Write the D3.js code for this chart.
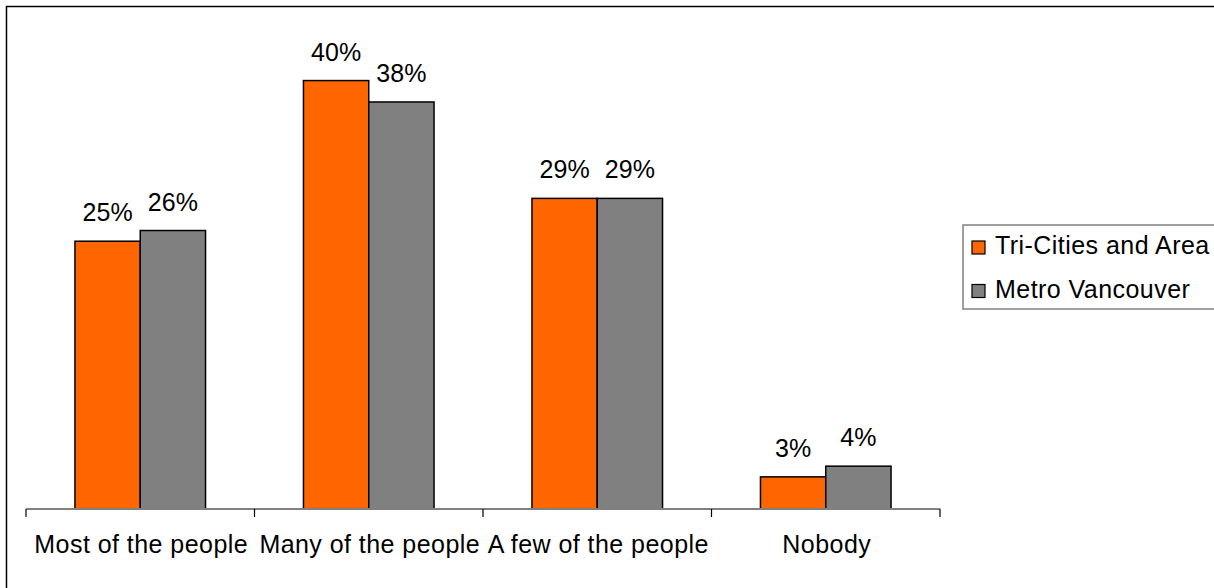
<!DOCTYPE html>
<html><head><meta charset="utf-8">
<script src="https://cdn.jsdelivr.net/npm/d3@7"></script>
<style>html,body{margin:0;padding:0;background:#fff;overflow:hidden}</style>
</head><body>
<svg id="c" width="1214" height="588"></svg>
<script>
const categories = ["Most of the people", "Many of the people", "A few of the people", "Nobody"];
const seriesNames = ["Tri-Cities and Area", "Metro Vancouver"];
const triCities = [25, 40, 29, 3];
const metroVancouver = [26, 38, 29, 4];
const colors = ["#FF6600", "#808080"];

const svg = d3.select("#c");
const font = "'Liberation Sans', Arial, sans-serif";
const fs = 25;

// outer border (cropped on right/bottom)
svg.append("rect").attr("x", 6.5).attr("y", 6.5).attr("width", 1300).attr("height", 700)
  .attr("fill", "#fff").attr("stroke", "#000").attr("stroke-width", 1.5);

const x0 = d3.scaleBand().domain(categories).range([26, 940]).padding(0);
const x1 = d3.scaleBand().domain(seriesNames).range([0, x0.bandwidth()]).paddingInner(0).paddingOuter(0.75);
const y = d3.scaleLinear().domain([0, 45]).range([509, 27]);

const data = categories.map((c, i) => ({cat: c, vals: [triCities[i], metroVancouver[i]]}));

const g = svg.append("g");
const groups = g.selectAll("g.cat").data(data).join("g")
  .attr("transform", d => `translate(${x0(d.cat)},0)`);

groups.selectAll("rect").data(d => d.vals.map((v, j) => ({v, s: seriesNames[j], j})))
  .join("rect")
  .attr("x", d => x1(d.s))
  .attr("y", d => y(d.v))
  .attr("width", x1.bandwidth())
  .attr("height", d => y(0) - y(d.v))
  .attr("fill", d => colors[d.j])
  .attr("stroke", "#000").attr("stroke-width", 1.5);

groups.selectAll("text.val").data(d => d.vals.map((v, j) => ({v, s: seriesNames[j], j})))
  .join("text").attr("class", "val")
  .attr("x", d => x1(d.s) + x1.bandwidth() / 2)
  .attr("y", d => y(d.v) - 20)
  .attr("text-anchor", "middle")
  .attr("font-family", font).attr("font-size", fs).attr("fill", "#000")
  .text(d => d.v + "%");

// x axis
const axisG = svg.append("g").attr("transform", `translate(0,${y(0)})`);
axisG.append("line").attr("x1", 26).attr("x2", 940).attr("y1", 0).attr("y2", 0)
  .attr("stroke", "#808080").attr("stroke-width", 2);
const tickPos = categories.map(c => x0(c)).concat([x0(categories[categories.length - 1]) + x0.bandwidth()]);
axisG.selectAll("line.tick").data(tickPos).join("line").attr("class", "tick")
  .attr("x1", d => d).attr("x2", d => d).attr("y1", 0).attr("y2", 8)
  .attr("stroke", "#000").attr("stroke-width", 1.2);
axisG.selectAll("text").data(categories).join("text")
  .attr("x", d => x0(d) + x0.bandwidth() / 2 + 1)
  .attr("y", 44)
  .attr("text-anchor", "middle")
  .attr("letter-spacing", "0.45px")
  .attr("font-family", font).attr("font-size", fs).attr("fill", "#000")
  .text(d => d);

// legend
const lg = svg.append("g");
lg.append("rect").attr("x", 963).attr("y", 225).attr("width", 300).attr("height", 84)
  .attr("fill", "#fff").attr("stroke", "#808080").attr("stroke-width", 1.5);
seriesNames.forEach((s, i) => {
  const yy = 241 + i * 43.5;
  lg.append("rect").attr("x", 972).attr("y", yy).attr("width", 13).attr("height", 13)
    .attr("fill", colors[i]).attr("stroke", "#000").attr("stroke-width", 1.2);
  lg.append("text").attr("x", 995).attr("y", yy + 13)
    .attr("letter-spacing", "0.45px")
    .attr("font-family", font).attr("font-size", fs).attr("fill", "#000").text(s);
});
</script>
</body></html>
